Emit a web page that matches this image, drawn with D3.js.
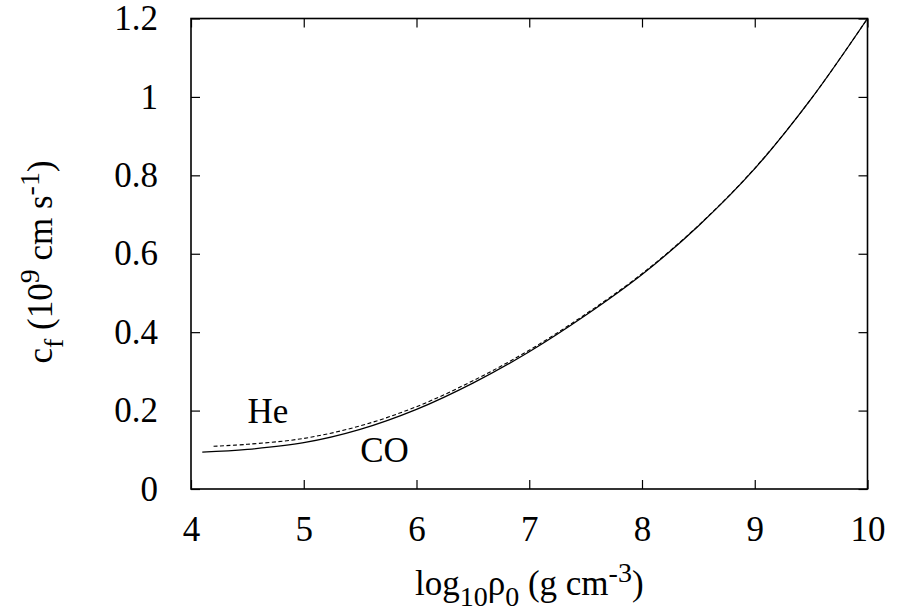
<!DOCTYPE html>
<html>
<head>
<meta charset="utf-8">
<script src="https://cdn.jsdelivr.net/npm/d3@7"></script>
<style>
  body { margin: 0; background: #fff; }
  text { font-family: "Liberation Serif", "DejaVu Serif", serif; fill: #000; }
</style>
</head>
<body>
<div id="chart"></div>
<script>
// CO (solid) and He (dashed) curves
const coX = [4.1, 4.5, 5, 5.5, 6, 6.5, 7, 7.5, 8, 8.5, 9, 9.5, 10];
const coY = [0.094, 0.101, 0.118, 0.152, 0.203, 0.27, 0.35, 0.443, 0.547, 0.671, 0.817, 0.995, 1.2];
const heX = [4.2, 4.5, 5, 5.5, 6, 6.5, 7, 7.5, 8, 8.5, 9, 9.5, 10];
const heY = [0.109, 0.114, 0.129, 0.161, 0.21, 0.276, 0.354, 0.446, 0.549, 0.672, 0.818, 0.995, 1.2];
const xTicks = [4, 5, 6, 7, 8, 9, 10];
const yTicks = [0, 0.2, 0.4, 0.6, 0.8, 1, 1.2];

const width = 898, height = 612;
const margin = { top: 18.5, right: 30.5, bottom: 123, left: 191 };
const w = width - margin.left - margin.right;
const h = height - margin.top - margin.bottom;

const svg = d3.select('#chart').append('svg')
  .attr('width', width)
  .attr('height', height);

const g = svg.append('g')
  .attr('transform', 'translate(' + margin.left + ',' + margin.top + ')');

const x = d3.scaleLinear().domain([4, 10]).range([0, w]);
const y = d3.scaleLinear().domain([0, 1.2]).range([h, 0]);

const fmt = d => String(d);
const tickLen = 9;
const fs = 35, sub = 28;

// axes with inward ticks, mirrored on top/right
g.append('g').attr('transform', 'translate(0,' + h + ')')
  .call(d3.axisBottom(x).tickValues(xTicks).tickSize(-tickLen).tickFormat(fmt).tickPadding(27));
g.append('g')
  .call(d3.axisTop(x).tickValues(xTicks).tickSize(-tickLen).tickFormat(''));
g.append('g')
  .call(d3.axisLeft(y).tickValues(yTicks).tickSize(-tickLen).tickFormat(fmt).tickPadding(33));
g.append('g').attr('transform', 'translate(' + w + ',0)')
  .call(d3.axisRight(y).tickValues(yTicks).tickSize(-tickLen).tickFormat(''));

g.selectAll('.domain').remove();
g.selectAll('.tick line').attr('stroke', '#000').attr('stroke-width', 1.2);
g.selectAll('.tick text').attr('font-size', fs);

g.append('rect')
  .attr('width', w).attr('height', h)
  .attr('fill', 'none').attr('stroke', '#000').attr('stroke-width', 1.6);

const line = d3.line().x(d => x(d[0])).y(d => y(d[1])).curve(d3.curveCatmullRom.alpha(0.5));

g.append('path')
  .datum(coX.map((v, i) => [v, coY[i]]))
  .attr('d', line)
  .attr('fill', 'none').attr('stroke', '#000').attr('stroke-width', 1.3);

g.append('path')
  .datum(heX.map((v, i) => [v, heY[i]]))
  .attr('d', line)
  .attr('fill', 'none').attr('stroke', '#000').attr('stroke-width', 1.1)
  .attr('stroke-dasharray', '4,2.5');

// curve labels
g.append('text').attr('x', x(4.5)).attr('y', y(0.168)).attr('font-size', fs).text('He');
g.append('text').attr('x', x(5.5)).attr('y', y(0.069)).attr('font-size', fs).text('CO');

// x title
const xt = svg.append('text')
  .attr('x', margin.left + w / 2).attr('y', 595)
  .attr('text-anchor', 'middle').attr('font-size', fs);
xt.append('tspan').text('log');
xt.append('tspan').attr('font-size', sub).attr('dy', 11).text('10');
xt.append('tspan').attr('dy', -11).text('ρ');
xt.append('tspan').attr('font-size', sub).attr('dy', 11).text('0');
xt.append('tspan').attr('dy', -11).text(' (g cm');
xt.append('tspan').attr('font-size', sub).attr('dy', -13).text('-3');
xt.append('tspan').attr('dy', 13).text(')');

// y title
const yt = svg.append('text')
  .attr('transform', 'translate(52,' + 262 + ') rotate(-90)')
  .attr('text-anchor', 'middle').attr('font-size', fs);
yt.append('tspan').text('c');
yt.append('tspan').attr('font-size', sub).attr('dy', 11).text('f');
yt.append('tspan').attr('dy', -11).text(' (10');
yt.append('tspan').attr('font-size', sub).attr('dy', -13).text('9');
yt.append('tspan').attr('dy', 13).text(' cm s');
yt.append('tspan').attr('font-size', sub).attr('dy', -13).text('-1');
yt.append('tspan').attr('dy', 13).text(')');
</script>
</body>
</html>
